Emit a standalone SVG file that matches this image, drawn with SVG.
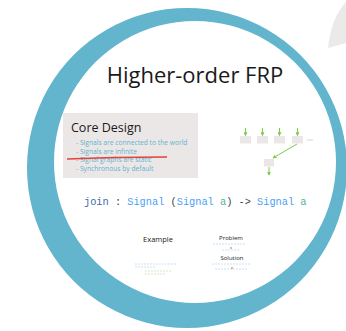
<svg xmlns="http://www.w3.org/2000/svg" width="346" height="331" viewBox="0 0 346 331">
<defs>
<style>
.ring{fill:#62b5cc;fill-rule:evenodd}
.box{fill:#ece7e7}
.title{font-family:"Open Sans","Liberation Sans",sans-serif;fill:#1a1a1a}
.bullet{font-family:"Open Sans","Liberation Sans",sans-serif;font-size:6.7px;fill:#5fb3cf}
.code{font-family:"Liberation Mono","DejaVu Sans Mono",monospace;font-size:10.3px}
.kw{fill:#3f6aa8}
.ty{fill:#4a9ff2}
.var{fill:#4fb3a0}
.pn{fill:#444}
.small{font-family:"Open Sans","Liberation Sans",sans-serif;fill:#222}
.edge{stroke:#7dcc45;stroke-width:1;fill:none;marker-end:url(#ah)}
.tiny{stroke:#7fb8e0;stroke-width:0.8;stroke-dasharray:2 1;opacity:0.5}
</style>
<marker id="ah" viewBox="0 0 6 6" refX="5" refY="3" markerWidth="4" markerHeight="4" orient="auto">
<path d="M0,0 L6,3 L0,6 Z" fill="#7dcc45"/>
</marker>
</defs>
<rect width="346" height="331" fill="#ffffff"/>
<path d="M346,2 Q331,18 328,48 L346,43 Z" fill="#ece9e9"/>
<path class="ring" d="M187,8 A160,160 0 1,1 186.99,8 Z M195,21 A141,141 0 1,0 195.01,21 Z"/>
<g id="title"><text class="title" x="195" y="83" font-size="22" text-anchor="middle">Higher-order FRP</text></g>
<g id="core-design">
<rect class="box" x="63" y="113" width="135" height="65"/>
<text class="title" x="71" y="132" font-size="12.5">Core Design</text>
<text class="bullet" x="76" y="145">- Signals are connected to the world</text>
<text class="bullet" x="76" y="153.5">- Signals are infinite</text>
<text class="bullet" x="76" y="162">- Signal graphs are static</text>
<text class="bullet" x="76" y="171">- Synchronous by default</text>
<path d="M67,159 Q110,157 167,157" stroke="#e0443a" stroke-width="1.3" fill="none"/>
</g>
<g id="graph">
<rect class="box" x="240" y="136" width="11" height="7.5"/>
<rect class="box" x="257" y="136" width="11" height="7.5"/>
<rect class="box" x="274" y="136" width="11" height="7.5"/>
<rect class="box" x="292" y="136" width="11" height="7.5"/>
<rect class="box" x="264" y="159" width="10" height="7.5"/>
<line x1="307" y1="140" x2="313" y2="140" stroke="#cccccc" stroke-width="0.8"/>
</g>
<g id="connectors">
<line class="edge" x1="245.5" y1="128" x2="245.5" y2="135.5"/>
<line class="edge" x1="262.5" y1="128" x2="262.5" y2="135.5"/>
<line class="edge" x1="279.5" y1="128" x2="279.5" y2="135.5"/>
<line class="edge" x1="297.5" y1="128" x2="297.5" y2="135.5"/>
<line class="edge" x1="297" y1="144" x2="273" y2="158"/>
<line class="edge" x1="269" y1="167" x2="269" y2="175"/>
</g>
<g id="code"><text class="code" x="84" y="205"><tspan class="kw">join</tspan><tspan class="pn"> : </tspan><tspan class="ty">Signal</tspan><tspan class="pn"> (</tspan><tspan class="ty">Signal</tspan><tspan class="var"> a</tspan><tspan class="pn">) -&gt; </tspan><tspan class="ty">Signal</tspan><tspan class="var"> a</tspan></text></g>
<g id="example">
<text class="small" x="158" y="242" font-size="7.5" text-anchor="middle">Example</text>
<line class="tiny" x1="135" y1="264" x2="176" y2="264"/>
<line class="tiny" x1="135" y1="267" x2="156" y2="267"/>
<line x1="145" y1="271" x2="172" y2="271" stroke="#9acb7a" stroke-width="0.8" stroke-dasharray="2 1" opacity="0.5"/>
<line x1="145" y1="274" x2="165" y2="274" stroke="#9acb7a" stroke-width="0.8" stroke-dasharray="2 1" opacity="0.5"/>
</g>
<g id="problem">
<text class="small" x="231" y="240" font-size="6" text-anchor="middle">Problem</text>
<line class="tiny" x1="213" y1="244" x2="246" y2="244"/>
<line class="tiny" x1="222" y1="250" x2="240" y2="250"/>
<circle cx="231" cy="248" r="0.8" fill="#e0443a"/>
</g>
<g id="solution">
<text class="small" x="232" y="260" font-size="6" text-anchor="middle">Solution</text>
<line class="tiny" x1="212" y1="264" x2="250" y2="264"/>
<line class="tiny" x1="215" y1="269" x2="248" y2="269"/>
<circle cx="232" cy="268" r="0.8" fill="#e0443a"/>
</g>
</svg>
